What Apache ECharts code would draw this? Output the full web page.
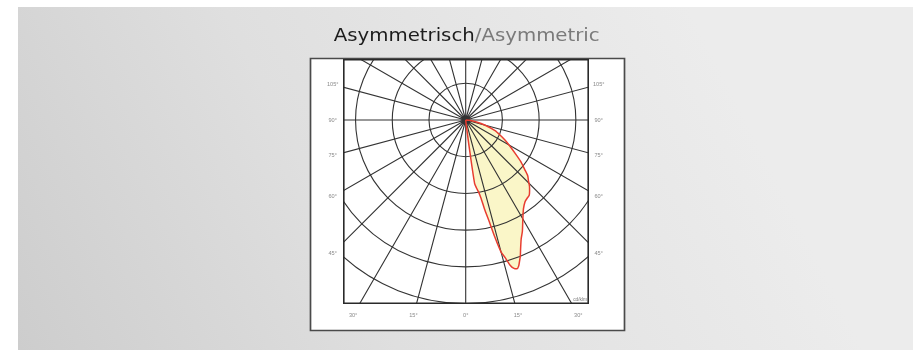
<!DOCTYPE html>
<html>
<head>
<meta charset="utf-8">
<script src="https://cdn.jsdelivr.net/npm/echarts@6/dist/echarts.min.js"></script>
<style>
  html, body { margin: 0; padding: 0; background: #ffffff; }
  #page { position: absolute; left: 0; top: 0; width: 913px; height: 350px; }
  #plot { position: absolute; left: 343px; top: 59px; width: 246px; height: 245px; overflow: hidden; }
</style>
</head>
<body>
<div id="page"></div>
<div id="plot"></div>
<script>
// Luminous intensity distribution (cd/klm) over the gamma angle, 0° = straight down
const beamAngles = [0, 5, 7, 7.5, 8, 9, 10, 11, 12, 13, 14, 15, 16, 17, 18, 19, 20, 21, 22, 23,
                    25, 27, 30, 33, 36, 38, 40, 42, 44, 46, 48, 50, 53, 56, 60, 63, 66, 70, 75, 80, 85, 90];
const beamIntensity = [0, 10, 150, 400, 700, 750, 790, 860, 1000, 1130, 1320, 1490, 1560, 1655, 1700, 1715, 1690, 1640, 1590, 1530,
                       1430, 1360, 1245, 1155, 1100, 1085, 1075, 1040, 1000, 950, 910, 840, 750, 650, 545, 480, 415, 340, 220, 110, 40, 0];

// Polar grid
const intensityTicks = [400, 800, 1200, 1600, 2000];
const upperTicks = [400];
const radiusMax = 2400;
const radiusStep = 400;
const angleStep = 15;

// Angle labels around the frame
const sideAngles = [105, 90, 75, 60, 45];
const bottomAngles = [-30, -15, 0, 15, 30];
const unitLabel = 'cd/klm';

const titleMain = 'Asymmetrisch';
const titleSub = '/Asymmetric';

// layout (page pixels)
const boxLeft = 343, boxTop = 59;
const centerX = 465.7, centerY = 120;
const gridRadius = 220.3;            // pixel radius of radiusMax
const sideLabelDx = 133, bottomLabelDy = 195;

const smallFont = 'Liberation Sans, Arial, sans-serif';
const gridColor = '#333333';

/* ---------- plot area (clipped to the inner box) ---------- */
const plot = echarts.init(document.getElementById('plot'), null, { renderer: 'canvas' });
const curve = beamAngles.map((a, i) => [beamIntensity[i], a]);
const tickLabels = intensityTicks.map(v => [v, 0]).concat(upperTicks.map(v => [v, 180]));
const ringColors = [];
for (let v = 0; v <= radiusMax; v += radiusStep) {
  ringColors.push(v > 0 && v < radiusMax ? gridColor : 'rgba(0,0,0,0)');
}

plot.setOption({
  backgroundColor: '#ffffff',
  animation: false,
  polar: { center: [centerX - boxLeft, centerY - boxTop], radius: gridRadius },
  angleAxis: {
    type: 'value', min: 0, max: 360, interval: angleStep,
    startAngle: 270, clockwise: false, z: 5,
    axisLine: { show: false }, axisTick: { show: false }, axisLabel: { show: false },
    splitLine: { show: true, lineStyle: { color: gridColor, width: 1.1 } }
  },
  radiusAxis: {
    type: 'value', min: 0, max: radiusMax, interval: radiusStep, z: 5,
    axisLine: { show: false }, axisTick: { show: false }, axisLabel: { show: false },
    splitLine: { show: true, lineStyle: { color: ringColors, width: 1.1 } }
  },
  series: [
    {
      type: 'line', coordinateSystem: 'polar', data: curve, symbol: 'none', smooth: 0.2, z: 1,
      lineStyle: { width: 0, opacity: 0 },
      areaStyle: { color: '#faf6c8', opacity: 1 }
    },
    {
      type: 'scatter', coordinateSystem: 'polar', data: tickLabels, symbolSize: 0, z: 6,
      itemStyle: { opacity: 0 },
      label: {
        show: true, position: 'right', distance: 1.5, offset: [0, -2],
        formatter: p => String(p.value[0]),
        fontSize: 4.5, color: '#7a7a7a', fontFamily: smallFont
      }
    },
    {
      type: 'line', coordinateSystem: 'polar', data: curve, symbol: 'none', smooth: 0.2, z: 10,
      lineStyle: { color: '#e83d30', width: 1.5 }
    }
  ],
  graphic: [
    {
      type: 'rect', z: 20, silent: true,
      shape: { x: 0.8, y: 0.8, width: 244.4, height: 243.4 },
      style: { fill: 'none', stroke: '#2a2a2a', lineWidth: 1.6 }
    },
    {
      type: 'text', z: 20, silent: true, x: 244, y: 240.5,
      style: { text: unitLabel, fontSize: 4.8, fill: '#7a7a7a', fontFamily: smallFont, align: 'right', verticalAlign: 'middle' }
    }
  ]
});

/* ---------- page: background, frame, title, angle labels ---------- */
const page = echarts.init(document.getElementById('page'), null, { renderer: 'canvas' });
const rad = Math.PI / 180;
const angleTexts = [];
sideAngles.forEach(a => {
  const dy = sideLabelDx * Math.cos(a * rad) / Math.sin(a * rad);
  [-1, 1].forEach(side => {
    angleTexts.push({
      type: 'text', silent: true, x: centerX + side * sideLabelDx, y: centerY + dy,
      style: { text: a + '°', fontSize: 5.6, fill: '#8a8a8a', fontFamily: smallFont, align: 'center', verticalAlign: 'middle' }
    });
  });
});
bottomAngles.forEach(a => {
  angleTexts.push({
    type: 'text', silent: true, x: centerX + bottomLabelDy * Math.tan(a * rad), y: centerY + bottomLabelDy,
    style: { text: Math.abs(a) + '°', fontSize: 5.6, fill: '#8a8a8a', fontFamily: smallFont, align: 'center', verticalAlign: 'middle' }
  });
});

page.setOption({
  animation: false,
  graphic: [
    {
      type: 'rect', silent: true, z: 0,
      shape: { x: 18, y: 7, width: 895, height: 343 },
      style: {
        fill: {
          type: 'linear', x: 0, y: 1, x2: 0.75, y2: 0,
          colorStops: [{ offset: 0, color: '#cdcdcd' }, { offset: 0.45, color: '#dfdfdf' }, { offset: 1, color: '#ececec' }]
        }
      }
    },
    {
      type: 'rect', silent: true, z: 1,
      shape: { x: 310.5, y: 58.5, width: 314, height: 272 },
      style: { fill: '#ffffff', stroke: '#4a4a4a', lineWidth: 1.7 }
    },
    {
      type: 'text', silent: true, z: 2, x: 466.7, y: 36.3, scaleX: 1.08,
      style: {
        text: '{a|' + titleMain + '}{b|' + titleSub + '}',
        align: 'center', verticalAlign: 'middle',
        rich: {
          a: { fontSize: 18.3, fontFamily: 'DejaVu Sans, sans-serif', fill: '#1c1c1c' },
          b: { fontSize: 18.3, fontFamily: 'DejaVu Sans, sans-serif', fill: '#7a7a7a' }
        }
      }
    }
  ].concat(angleTexts.map(t => Object.assign({ z: 3 }, t)))
});
</script>
</body>
</html>
